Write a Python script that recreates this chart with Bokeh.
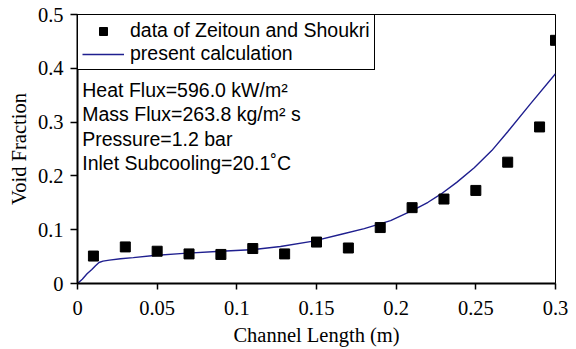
from bokeh.plotting import figure
from bokeh.models import Range1d, FixedTicker, Legend, LegendItem, Label
from bokeh.embed import file_html
from bokeh.resources import INLINE

# measured data (Zeitoun and Shoukri)
meas_x = [0.01, 0.03, 0.05, 0.07, 0.09, 0.11, 0.13, 0.15, 0.17, 0.19, 0.21, 0.23, 0.25, 0.27, 0.29, 0.30]
meas_y = [0.051, 0.068, 0.060, 0.055, 0.054, 0.065, 0.055, 0.077, 0.066, 0.104, 0.141, 0.157, 0.173, 0.2255, 0.291, 0.452]

# present calculation
calc_x = [0, 0.003, 0.006, 0.009, 0.0113, 0.0135, 0.016, 0.02, 0.027, 0.035, 0.048, 0.0667, 0.09,
          0.1086, 0.1274, 0.148, 0.165, 0.18, 0.1965, 0.211, 0.22, 0.228, 0.238, 0.249, 0.26, 0.27, 0.284, 0.3]
calc_y = [0, 0.008, 0.018, 0.026, 0.033, 0.039, 0.0415, 0.0435, 0.046, 0.048, 0.052, 0.056, 0.060,
          0.0626, 0.0688, 0.0787, 0.091, 0.102, 0.117, 0.137, 0.151, 0.166, 0.188, 0.215, 0.247, 0.282, 0.333, 0.39]

x_ticks = [0, 0.05, 0.1, 0.15, 0.2, 0.25, 0.3]
x_tick_labels = ["0", "0.05", "0.1", "0.15", "0.2", "0.25", "0.3"]
y_ticks = [0, 0.1, 0.2, 0.3, 0.4, 0.5]
y_tick_labels = ["0", "0.1", "0.2", "0.3", "0.4", "0.5"]

info_lines = ["Heat Flux=596.0 kW/m\u00b2",
              "Mass Flux=263.8 kg/m\u00b2 s",
              "Pressure=1.2 bar",
              "Inlet Subcooling=20.1\u02daC"]

SERIF = "Liberation Serif"
SANS = "Liberation Sans"

p = figure(width=576, height=349, x_range=Range1d(0, 0.3), y_range=Range1d(0, 0.5),
           output_backend="svg", toolbar_location=None,
           min_border_left=77, min_border_right=21, min_border_top=14, min_border_bottom=66)

p.xgrid.visible = False
p.ygrid.visible = False
p.outline_line_color = "black"
p.outline_line_width = 1
p.background_fill_color = "white"

p.xaxis.ticker = FixedTicker(ticks=x_ticks)
p.yaxis.ticker = FixedTicker(ticks=y_ticks)
p.xaxis.major_label_overrides = dict(zip(x_ticks, x_tick_labels))
p.yaxis.major_label_overrides = dict(zip(y_ticks, y_tick_labels))

for ax, tout in ((p.xaxis, 6), (p.yaxis, 7)):
    ax.axis_line_width = 2
    ax.axis_line_color = "black"
    ax.major_tick_line_width = 1.5
    ax.major_tick_line_color = "black"
    ax.major_tick_out = tout
    ax.major_tick_in = 0
    ax.minor_tick_line_color = None
    ax.major_label_text_font = SERIF
    ax.major_label_text_font_size = "20.5px"
    ax.major_label_text_color = "black"
    ax.axis_label_text_font = SERIF
    ax.axis_label_text_font_size = "20.5px"
    ax.axis_label_text_font_style = "normal"
    ax.axis_label_text_color = "black"

p.xaxis.axis_label = "Channel Length (m)"
p.yaxis.axis_label = "Void Fraction"
p.xaxis.major_label_standoff = 11
p.xaxis.axis_label_standoff = 6
p.yaxis.major_label_standoff = 7
p.yaxis.axis_label_standoff = 5

r_line = p.line(calc_x, calc_y, line_color="#1f1f8f", line_width=1.4)
r_pts = p.scatter(meas_x, meas_y, marker="square", size=10, fill_color="black", line_color="black")

legend = Legend(items=[LegendItem(label="data of Zeitoun and Shoukri", renderers=[r_pts]),
                       LegendItem(label="present calculation", renderers=[r_line])],
                location="top_left", margin=0, padding=4, spacing=0,
                glyph_width=42, glyph_height=20, label_height=20, label_standoff=6,
                label_text_font=SANS, label_text_font_size="19.5px", label_text_color="black",
                border_line_color="black", border_line_width=1, border_line_alpha=1,
                background_fill_color="white", background_fill_alpha=1)
p.add_layout(legend)

for txt, yv in zip(info_lines, [0.359, 0.3145, 0.2695, 0.2245]):
    p.add_layout(Label(x=0.003, y=yv, text=txt, text_font=SANS, text_font_size="19.5px",
                       text_baseline="alphabetic", text_color="black"))

open("out.html", "w").write(file_html(p, INLINE))
